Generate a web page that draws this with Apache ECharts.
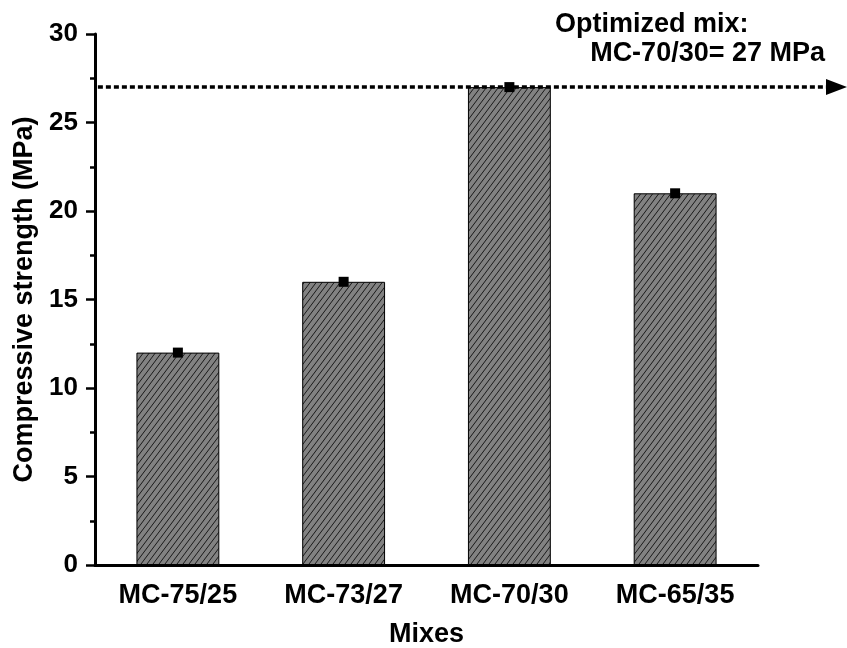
<!DOCTYPE html>
<html>
<head>
<meta charset="utf-8">
<script src="https://cdn.jsdelivr.net/npm/echarts@6/dist/echarts.min.js"></script>
<style>
  html, body { margin: 0; padding: 0; background: #fff; }
  #chart { width: 847px; height: 648px; }
</style>
</head>
<body>
<div id="chart"></div>
<script>
var mixes = ['MC-75/25', 'MC-73/27', 'MC-70/30', 'MC-65/35']
var strength = [12, 16, 27, 21]
var optimum = 27
var noteLines = ['Optimized mix:', 'MC-70/30= 27 MPa']

var FONT = 'Arial, "Liberation Sans", sans-serif'

// hatch pattern for the bars
var hatch = document.createElement('canvas')
hatch.width = 6
hatch.height = 8
var ctx = hatch.getContext('2d')
ctx.fillStyle = '#828282'
ctx.fillRect(0, 0, 6, 8)
ctx.strokeStyle = '#1a1a1a'
ctx.lineWidth = 1
ctx.beginPath()
ctx.moveTo(-6, 16); ctx.lineTo(12, -8)
ctx.moveTo(-12, 16); ctx.lineTo(6, -8)
ctx.moveTo(0, 16); ctx.lineTo(18, -8)
ctx.stroke()

var myChart = echarts.init(document.getElementById('chart'))

var option = {
  backgroundColor: '#fff',
  animation: false,
  grid: { left: 95, right: 89, top: 34, bottom: 83, outerBoundsMode: 'none', containLabel: false },
  xAxis: [
    {
      type: 'category',
      data: mixes,
      name: 'Mixes',
      nameLocation: 'middle',
      nameGap: 56,
      nameTextStyle: { fontFamily: FONT, fontWeight: 'bold', fontSize: 27, color: '#000' },
      axisLine: { lineStyle: { color: '#000', width: 3 } },
      axisTick: { alignWithLabel: true, length: 9, lineStyle: { color: '#000', width: 2.5 } },
      axisLabel: { margin: 17, fontFamily: FONT, fontWeight: 'bold', fontSize: 27, color: '#000' },
      splitLine: { show: false }
    },
    {
      // short ticks at the category boundaries
      type: 'category',
      data: mixes,
      position: 'bottom',
      axisLine: { show: false },
      axisTick: { length: 5, lineStyle: { color: '#000', width: 2.5 } },
      axisLabel: { show: false },
      splitLine: { show: false }
    }
  ],
  yAxis: {
    type: 'value',
    min: 0,
    max: 30,
    interval: 5,
    name: 'Compressive strength (MPa)',
    nameLocation: 'middle',
    nameGap: 56,
    nameTextStyle: { fontFamily: FONT, fontWeight: 'bold', fontSize: 27, color: '#000' },
    axisLine: { show: true, lineStyle: { color: '#000', width: 3 } },
    axisTick: { show: true, length: 9, lineStyle: { color: '#000', width: 2.5 } },
    minorTick: { show: true, splitNumber: 2, length: 5, lineStyle: { color: '#000', width: 2.5 } },
    axisLabel: { margin: 17, fontFamily: FONT, fontWeight: 'bold', fontSize: 26, color: '#000' },
    splitLine: { show: false }
  },
  series: [
    {
      type: 'bar',
      data: strength,
      barWidth: '50%',
      itemStyle: {
        color: { image: hatch, repeat: 'repeat' },
        borderColor: '#000',
        borderWidth: 1
      }
    },
    {
      type: 'scatter',
      data: strength,
      symbol: 'rect',
      symbolSize: 10,
      itemStyle: { color: '#000', opacity: 1 },
      z: 5
    }
  ]
}

myChart.setOption(option)

// dotted arrow at the optimum strength plus the note
var yOpt = myChart.convertToPixel({ yAxisIndex: 0 }, optimum)
var xStart = myChart.convertToPixel({ xAxisIndex: 0 }, mixes[0]) - 80
myChart.setOption({
  graphic: [
    {
      type: 'line',
      shape: { x1: xStart, y1: yOpt, x2: 828, y2: yOpt },
      style: { stroke: '#000', lineWidth: 3.5, lineDash: [5, 3] },
      z: 10
    },
    {
      type: 'polygon',
      shape: { points: [[826, yOpt - 8], [847, yOpt], [826, yOpt + 8]] },
      style: { fill: '#000' },
      z: 10
    },
    {
      type: 'text',
      style: {
        x: 555, y: 25, text: noteLines[0],
        font: 'bold 27px ' + FONT, fill: '#000',
        textAlign: 'left', textVerticalAlign: 'middle'
      },
      z: 10
    },
    {
      type: 'text',
      style: {
        x: 825, y: 54, text: noteLines[1],
        font: 'bold 27px ' + FONT, fill: '#000',
        textAlign: 'right', textVerticalAlign: 'middle'
      },
      z: 10
    }
  ]
})
</script>
</body>
</html>
